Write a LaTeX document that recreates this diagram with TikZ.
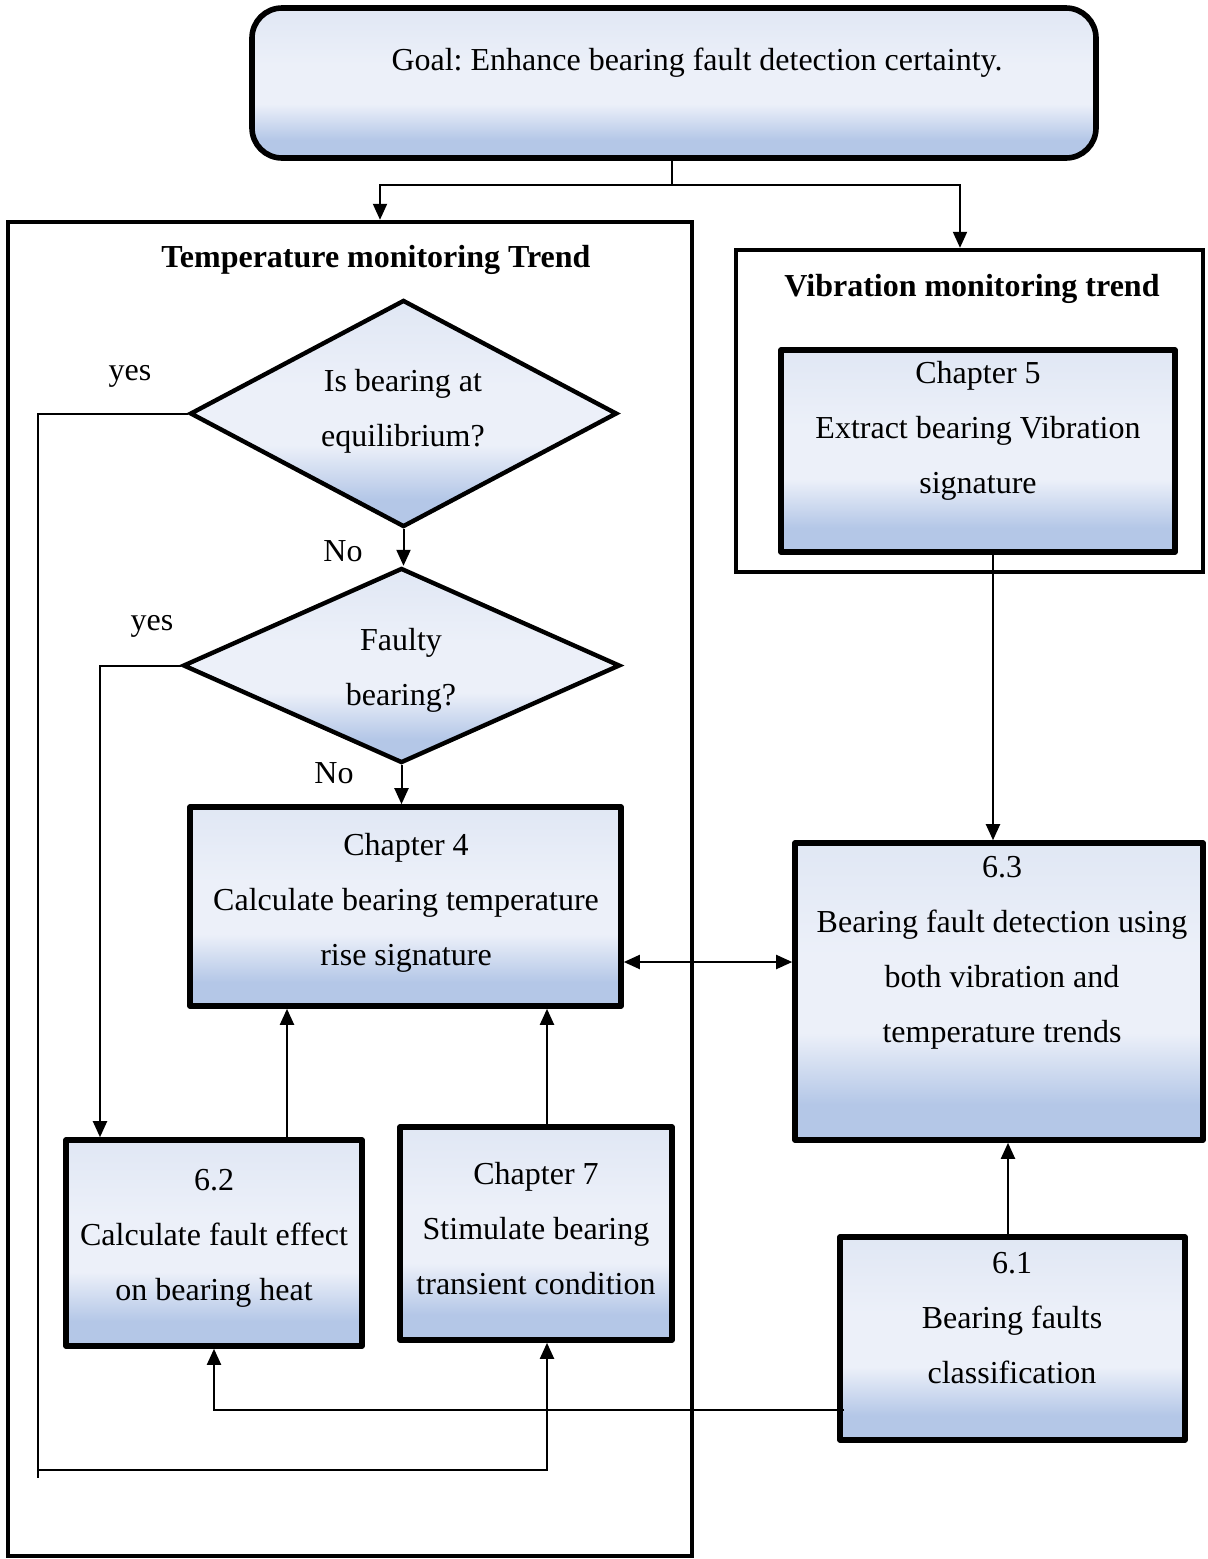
\documentclass[tikz,border=0pt]{standalone}
\usepackage{fontspec}
\setmainfont{Liberation Serif}
\usetikzlibrary{shapes.geometric,arrows.meta}
\frenchspacing

\definecolor{shadebot}{HTML}{B4C7E7}
\definecolor{shademid}{HTML}{ECF0F9}
\definecolor{shadetop}{HTML}{E0E7F4}
% light-to-blue fill used by every process box and decision
\pgfdeclareverticalshading{boxfill}{100bp}{color(0bp)=(shadebot); color(25bp)=(shadebot);
  color(31bp)=(shadebot); color(43bp)=(shademid); color(56bp)=(shademid);
  color(75bp)=(shadetop); color(100bp)=(shadetop)}

\begin{document}
\begin{tikzpicture}[x=0.5pt,y=-0.5pt,
  font=\fontsize{16}{27.5}\selectfont,
  stepbox/.style={draw, line width=2.8pt, line join=round, shading=boxfill,
    rectangle, inner sep=0pt},
  decision/.style={draw, line width=2.2pt, shading=boxfill, diamond, aspect=2,
    inner sep=0pt},
  frame/.style={draw, line width=2.2pt, rectangle, inner sep=0pt},
  txt/.style={align=center, inner sep=0pt, yshift=-1.5pt},
  conn/.style={line width=1pt},
  arr/.style={conn, -{Triangle[length=8pt,width=7pt]}},
  dblarr/.style={conn, {Triangle[length=8pt,width=7pt]}-{Triangle[length=8pt,width=7pt]}}
]
\useasboundingbox (0,0) rectangle (1207,1559);

% goal
\node[stepbox, rounded corners=15pt, minimum width=422pt, minimum height=75pt] (goal) at (674,83) {};
\node[txt] (goaltxt) at (697,60) {Goal: Enhance bearing fault detection certainty.};

% monitoring frames
\node[frame, minimum width=342pt, minimum height=667pt] (tframe) at (350,889) {};
\node[txt, font=\fontsize{16}{27.5}\selectfont\bfseries] (ttitle) at (376,257) {Temperature monitoring Trend};
\node[frame, minimum width=233.5pt, minimum height=161pt] (vframe) at (969.5,411) {};
\node[txt, font=\fontsize{16}{27.5}\selectfont\bfseries] (vtitle) at (972,286) {Vibration monitoring trend};

% vibration branch
\node[stepbox, minimum width=197pt, minimum height=101pt] (ch5) at (978,451) {};
\node[txt] (ch5txt) at (978,428) {Chapter 5\\Extract bearing Vibration\\signature};

% decisions
\node[decision, minimum width=213.5pt, minimum height=113.5pt] (d1) at (403.5,413.5) {};
\node[txt] (d1txt) at (403,408) {Is bearing at\\equilibrium?};
\node[decision, minimum width=218.5pt, minimum height=97.5pt] (d2) at (401.5,665.5) {};
\node[txt] (d2txt) at (401,667) {Faulty\\bearing?};

% process boxes
\node[stepbox, minimum width=215.5pt, minimum height=99.5pt] (ch4) at (405.5,906.5) {};
\node[txt] (ch4txt) at (406,900) {Chapter 4\\Calculate bearing temperature\\rise signature};

\node[stepbox, minimum width=204pt, minimum height=148.5pt] (b63) at (999,991.5) {};
\node[txt] (b63txt) at (1002,950) {6.3\\Bearing fault detection using\\both vibration and\\temperature trends};

\node[stepbox, minimum width=172.5pt, minimum height=101.5pt] (b61) at (1012.5,1338.5) {};
\node[txt] (b61txt) at (1012,1315) {6.1\\Bearing faults\\classification};

\node[stepbox, minimum width=148pt, minimum height=103pt] (b62) at (214,1243) {};
\node[txt] (b62txt) at (214,1235) {6.2\\Calculate fault effect\\on bearing heat};

\node[stepbox, minimum width=136pt, minimum height=106.5pt] (ch7) at (536,1233.5) {};
\node[txt] (ch7txt) at (536,1226) {Chapter 7\\Stimulate bearing\\transient condition};

% branch labels
\node[txt] (yes1) at (130,373) {yes};
\node[txt] (yes2) at (152,623) {yes};
\node[txt] (no1) at (343,548) {No};
\node[txt] (no2) at (334,770) {No};

% goal splits into both trends
\draw[conn] ([shift={(-2,0)}]goal.south) -- ++(0,24) coordinate (split);
\draw[arr] (split) -| ([shift={(30,0)}]tframe.north);
\draw[arr] (split) -| ([shift={(-9.5,0)}]vframe.north);

% decision chain
\draw[arr] (d1.south) -- (d1.south |- d2.north);
\draw[arr] (d2.south) -- (d2.south |- ch4.north);

% equilibrium reached: loop down to chapter 7
\coordinate (loopcorner) at (38,1470);
\draw[arr] (d1.west) -| (loopcorner) -| ([shift={(11,0)}]ch7.south);
\draw[conn] (loopcorner) -- ++(0,8);

% faulty bearing: down to 6.2
\draw[arr] (d2.west) -| ([shift={(-114,0)}]b62.north);

% chapter 4 <-> 6.3
\path ([shift={(0,55.5)}]ch4.east) coordinate (c4r);
\draw[dblarr] (c4r) -- (c4r -| b63.west);

% chapter 5 -> 6.3
\path ([shift={(15,0)}]ch5.south) coordinate (c5b);
\draw[arr] (c5b) -- (c5b |- b63.north);

% 6.1 -> 6.3
\path ([shift={(-4.5,0)}]b61.north) coordinate (b61t);
\draw[arr] (b61t) -- (b61t |- b63.south);

% 6.1 -> 6.2
\draw[arr] ([shift={(7,71.5)}]b61.west) -| (b62.south);

% 6.2 and chapter 7 feed chapter 4
\path ([shift={(73,0)}]b62.north) coordinate (b62t);
\draw[arr] (b62t) -- (b62t |- ch4.south);
\path ([shift={(11,0)}]ch7.north) coordinate (ch7t);
\draw[arr] (ch7t) -- (ch7t |- ch4.south);
\end{tikzpicture}
\end{document}
